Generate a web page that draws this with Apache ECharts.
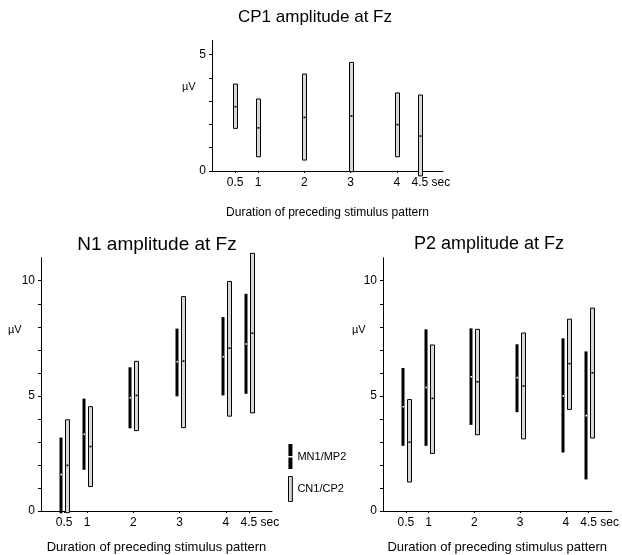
<!DOCTYPE html>
<html>
<head>
<meta charset="utf-8">
<script src="https://cdn.jsdelivr.net/npm/echarts@6/dist/echarts.min.js"></script>
<style>
html, body { margin: 0; padding: 0; background: #fff; }
#chart { width: 622px; height: 555px; }
</style>
</head>
<body>
<div id="chart"></div>
<script>
// durations of the preceding stimulus pattern (sec)
var durations = [0.5, 1, 2, 3, 4, 4.5];
var xTicks = [0.5, 1, 2, 3, 4, 4.5];

// CP1 amplitude (only the open bars)
var cp1Low = [1.83, 0.61, 0.47, -0.03, 0.61, -0.21];
var cp1High = [3.73, 3.09, 4.16, 4.66, 3.35, 3.26];
var cp1Mean = [2.76, 1.85, 2.3, 2.36, 1.99, 1.5];

// N1 amplitude, MN1 (black) and CN1 (open)
var mn1Low = [-0.1, 1.79, 3.59, 4.98, 5.02, 5.09];
var mn1High = [3.19, 4.88, 6.24, 7.92, 8.42, 9.43];
var mn1Mean = [1.58, 3.33, 4.92, 6.48, 6.7, 7.25];
var cn1Low = [-0.07, 1.06, 3.49, 3.62, 4.12, 4.26];
var cn1High = [3.96, 4.53, 6.5, 9.31, 9.97, 11.19];
var cn1Mean = [1.98, 2.8, 5.02, 6.51, 7.07, 7.72];

// P2 amplitude, MP2 (black) and CP2 (open)
var mp2Low = [2.83, 2.83, 3.74, 4.29, 2.54, 1.37];
var mp2High = [6.21, 7.89, 7.93, 7.24, 7.5, 6.93];
var mp2Mean = [4.53, 5.36, 5.83, 5.79, 5.0, 4.14];
var cp2Low = [1.26, 2.5, 3.31, 3.13, 4.41, 3.17];
var cp2High = [4.84, 7.21, 7.89, 7.73, 8.33, 8.81];
var cp2Mean = [2.99, 4.89, 5.61, 5.43, 6.4, 6.0];

var FONT = 'Arial, "Liberation Sans", sans-serif';

var myChart = echarts.init(document.getElementById('chart'));

var toRows = function (low, high, mean) {
    return durations.map(function (d, i) {
        return [d, low[i], high[i], mean[i]];
    });
};

// vertical range bar with a small mean marker
var rangeBar = function (filled, shift) {
    return function (params, api) {
        var top = api.coord([api.value(0), api.value(2)]);
        var bot = api.coord([api.value(0), api.value(1)]);
        var mid = api.coord([api.value(0), api.value(3)]);
        var x = Math.round(top[0] + shift);
        var w = filled ? 3 : 4;
        return {
            type: 'group',
            children: [
                {
                    type: 'rect',
                    shape: { x: x - 1.5, y: top[1], width: w, height: bot[1] - top[1] },
                    style: filled ? { fill: '#000' } : { fill: '#d8d8d8', stroke: '#000', lineWidth: 1 }
                },
                {
                    type: 'rect',
                    shape: { x: x - 0.5, y: mid[1] - 0.8, width: filled ? 1.5 : 2, height: 1.6 },
                    style: { fill: filled ? '#fff' : '#000' }
                }
            ]
        };
    };
};

var xAxisFor = function (gridIndex, nameSize, nameGap) {
    return {
        type: 'value',
        gridIndex: gridIndex,
        min: 0,
        max: 5,
        splitLine: { show: false },
        axisLine: { lineStyle: { color: '#000', width: 1 } },
        axisTick: { customValues: xTicks, length: 2, lineStyle: { color: '#000' } },
        axisLabel: {
            customValues: xTicks,
            hideOverlap: false,
            showMinLabel: true,
            showMaxLabel: true,
            color: '#000',
            fontSize: 12,
            fontFamily: FONT,
            margin: 6,
            formatter: function (v) {
                return Math.abs(v - 4.5) < 1e-6 ? '{p|}4.5 sec' : String(v);
            },
            rich: { p: { width: 22, height: 12 } }
        },
        name: 'Duration of preceding stimulus pattern',
        nameLocation: 'middle',
        nameGap: nameGap,
        nameTextStyle: { color: '#000', fontSize: nameSize, fontFamily: FONT }
    };
};

var yAxisFor = function (gridIndex, max, tickVals, labelVals) {
    return {
        type: 'value',
        gridIndex: gridIndex,
        min: 0,
        max: max,
        splitLine: { show: false },
        axisLine: { show: true, lineStyle: { color: '#000', width: 1 } },
        axisTick: { show: true, customValues: tickVals, length: 3, lineStyle: { color: '#000' } },
        axisLabel: { customValues: labelVals, color: '#000', fontSize: 12, fontFamily: FONT, margin: 6 }
    };
};

var series = [
    { name: 'CP1', xAxisIndex: 0, yAxisIndex: 0, data: toRows(cp1Low, cp1High, cp1Mean), open: true, shift: 0 },
    { name: 'MN1/MP2', xAxisIndex: 1, yAxisIndex: 1, data: toRows(mn1Low, mn1High, mn1Mean), open: false, shift: -3 },
    { name: 'CN1/CP2', xAxisIndex: 1, yAxisIndex: 1, data: toRows(cn1Low, cn1High, cn1Mean), open: true, shift: 3 },
    { name: 'MN1/MP2', xAxisIndex: 2, yAxisIndex: 2, data: toRows(mp2Low, mp2High, mp2Mean), open: false, shift: -3 },
    { name: 'CN1/CP2', xAxisIndex: 2, yAxisIndex: 2, data: toRows(cp2Low, cp2High, cp2Mean), open: true, shift: 3 }
].map(function (s) {
    return {
        type: 'custom',
        name: s.name,
        xAxisIndex: s.xAxisIndex,
        yAxisIndex: s.yAxisIndex,
        clip: false,
        encode: { x: 0, y: [1, 2] },
        renderItem: rangeBar(!s.open, s.shift),
        data: s.data
    };
});

var option = {
    animation: false,
    backgroundColor: '#fff',
    textStyle: { fontFamily: FONT, color: '#000' },
    title: [
        { text: 'CP1 amplitude at Fz', left: 310, top: 4, textAlign: 'center',
          textStyle: { fontSize: 17, fontWeight: 'normal', color: '#000', fontFamily: FONT } },
        { text: 'N1 amplitude at Fz', left: 152, top: 230, textAlign: 'center',
          textStyle: { fontSize: 19, fontWeight: 'normal', color: '#000', fontFamily: FONT } },
        { text: 'P2 amplitude at Fz', left: 484, top: 230, textAlign: 'center',
          textStyle: { fontSize: 18, fontWeight: 'normal', color: '#000', fontFamily: FONT } }
    ],
    legend: {
        orient: 'vertical',
        left: 283,
        top: 439,
        itemWidth: 4,
        itemHeight: 25,
        itemGap: 7,
        selectedMode: false,
        textStyle: { fontSize: 11, color: '#000', fontFamily: FONT },
        data: [
            { name: 'MN1/MP2', icon: 'path://M0,0H4V12H0Z M0,13.5H4V25H0Z', itemStyle: { color: '#000' } },
            { name: 'CN1/CP2', icon: 'path://M0,0H4V26H0Z',
              itemStyle: { color: '#d8d8d8', borderColor: '#000', borderWidth: 1 } }
        ]
    },
    grid: [
        { left: 212, right: 179, top: 40.5, bottom: 384 },
        { left: 41, right: 350, top: 257.7, bottom: 41.7 },
        { left: 383, right: 6, top: 257.7, bottom: 41.7 }
    ],
    xAxis: [xAxisFor(0, 12, 36), xAxisFor(1, 13, 30), xAxisFor(2, 13, 30)],
    yAxis: [
        yAxisFor(0, 5.6, [0, 1, 2, 3, 4, 5], [0, 5]),
        yAxisFor(1, 11, [0, 1, 2, 3, 4, 5, 6, 7, 8, 9, 10], [0, 5, 10]),
        yAxisFor(2, 11, [0, 1, 2, 3, 4, 5, 6, 7, 8, 9, 10], [0, 5, 10])
    ],
    graphic: [
        { type: 'text', left: 182, top: 81, style: { text: 'µV', fontSize: 11, fontFamily: FONT, fill: '#000' } },
        { type: 'text', left: 8, top: 324, style: { text: 'µV', fontSize: 11, fontFamily: FONT, fill: '#000' } },
        { type: 'text', left: 352, top: 324, style: { text: 'µV', fontSize: 11, fontFamily: FONT, fill: '#000' } }
    ],
    series: series
};

myChart.setOption(option);
</script>
</body>
</html>
